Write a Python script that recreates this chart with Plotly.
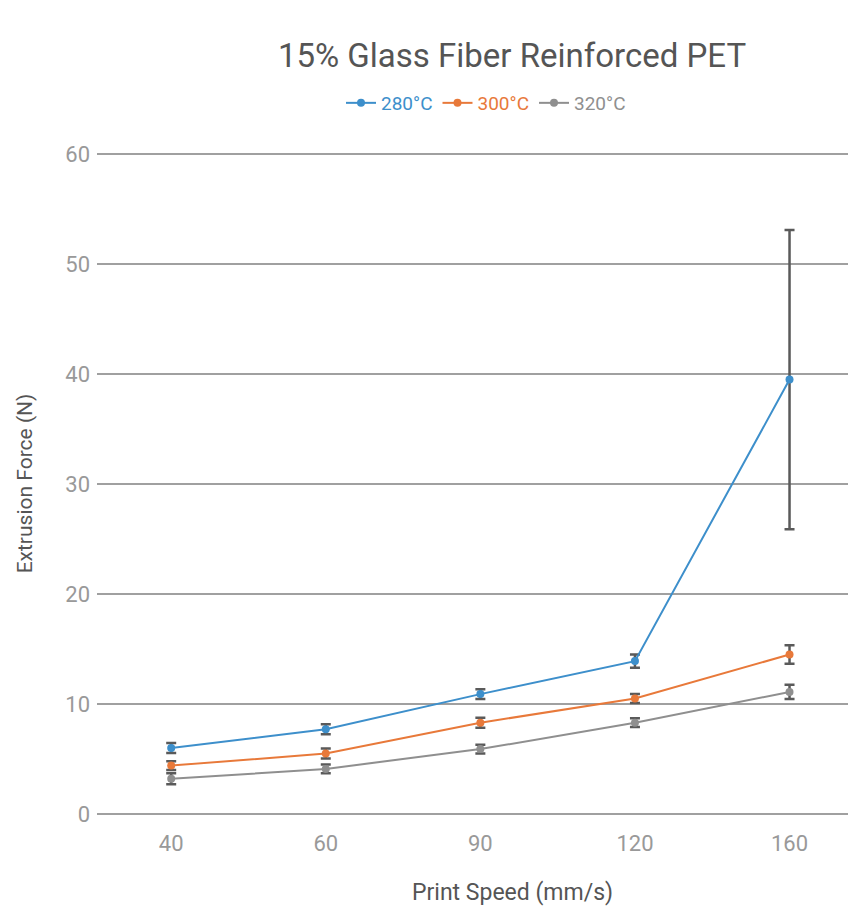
import plotly.graph_objects as go

speeds = ["40", "60", "90", "120", "160"]
series_names = ["280°C", "300°C", "320°C"]
force_280 = [6.0, 7.7, 10.9, 13.9, 39.5]
err_280 = [0.45, 0.45, 0.45, 0.6, 13.6]
force_300 = [4.4, 5.5, 8.3, 10.5, 14.5]
err_300 = [0.4, 0.45, 0.45, 0.4, 0.85]
force_320 = [3.2, 4.1, 5.9, 8.3, 11.1]
err_320 = [0.5, 0.4, 0.4, 0.4, 0.65]
y_ticks = [0, 10, 20, 30, 40, 50, 60]

colors = ["#3d8fcb", "#e8793a", "#8f8f8f"]
FONT = "Roboto"
OFF = 8  # page body margin
W, H = 848, 900

fig = go.Figure()
for name, vals, errs, col in zip(series_names, [force_280, force_300, force_320],
                                 [err_280, err_300, err_320], colors):
    fig.add_trace(go.Scatter(
        x=speeds, y=vals, mode="lines+markers",
        name=f'<span style="color:{col}">{name}</span>',
        line=dict(color=col, width=2),
        marker=dict(color=col, size=8),
        error_y=dict(type="data", array=errs, visible=True,
                     color="#5a5a5a", thickness=2.5, width=5),
    ))

fig.update_layout(
    width=W, height=H,
    paper_bgcolor="white", plot_bgcolor="white",
    margin=dict(l=97 - OFF, r=0, t=154 - OFF - 1, b=H - (814 - OFF)),
    font=dict(family=FONT, color="#999999"),
    title=dict(text="15% Glass Fiber Reinforced PET", x=(512 - OFF) / W, xanchor="center",
               xref="container",
               y=1 - (55 - OFF) / H, yanchor="middle",
               font=dict(size=33, color="#555555", family=FONT)),
    legend=dict(orientation="h", x=(486 - OFF) / W, xanchor="center",
                y=1 - (103 - OFF) / H, yanchor="middle",
                xref="container", yref="container", font=dict(size=19),
                bgcolor="rgba(0,0,0,0)"),
    showlegend=True,
    annotations=[dict(text="Print Speed (mm/s)", xref="paper", yref="paper",
                      x=(512 - 97) / (856 - 97), y=-(892 - 814) / (814 - 154),
                      xanchor="center", yanchor="middle", showarrow=False,
                      font=dict(size=23, color="#555555", family=FONT))],
)
fig.update_xaxes(
    type="category", range=[-0.48, 4.43],
    showgrid=False, showline=False, zeroline=False,
    tickfont=dict(size=22, color="#999999"),
    ticks="", ticklabelstandoff=14,
)
fig.update_yaxes(
    range=[0, 60.1], tickvals=y_ticks,
    showgrid=True, gridcolor="#a0a0a0", gridwidth=2,
    zeroline=True, zerolinecolor="#a0a0a0", zerolinewidth=2,
    showline=False,
    tickfont=dict(size=22, color="#999999"),
    ticks="", ticklabelstandoff=6,
    title=dict(text="Extrusion Force (N)", font=dict(size=21, color="#555555"), standoff=26),
)
fig.write_html("out.html")
